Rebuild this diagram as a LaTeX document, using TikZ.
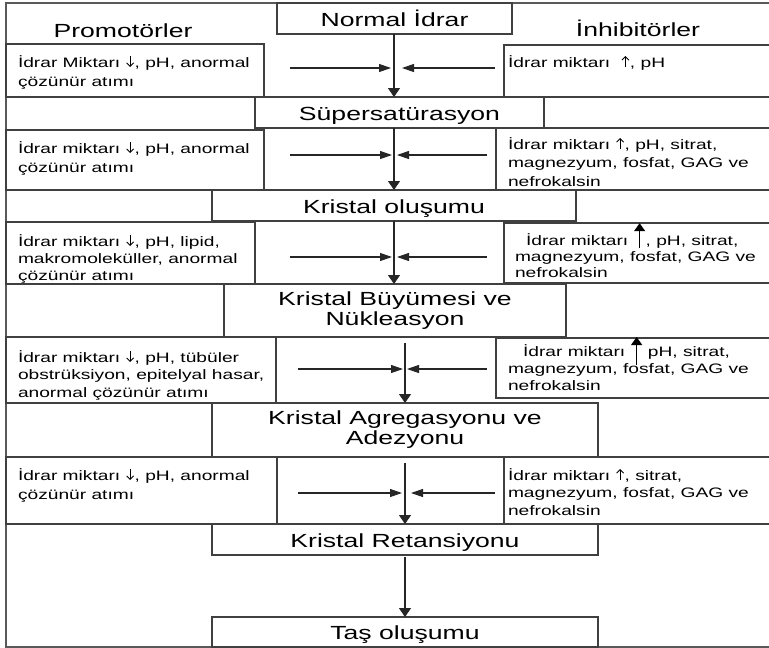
\documentclass[tikz,border=0pt]{standalone}
\usepackage{fontspec}
\setmainfont{Liberation Sans}[FakeStretch=1.4]
\usetikzlibrary{arrows.meta}
\newcommand\tb[5]{\parbox[c][#1pt][t]{#2pt}{\fontsize{13.7}{#4}\selectfont\vspace*{\dimexpr #3pt-0.7\baselineskip\relax}\begin{tabular}[t]{@{}l@{}}#5\end{tabular}}}
\newcommand\uparr[2]{\smash{\tikz[x=1pt,y=1pt,baseline=0pt]{\path (-6,0) -- (6,0);\draw[black,line width=1.1pt,-{Triangle[length=8pt,width=11pt]}] (0,#1) -- (0,#2);}}}
\newcommand\dn{\smash{\tikz[x=1pt,y=1pt,baseline=0pt]{\path (-4.5,0) -- (4.5,0);\draw[black,line width=0.9pt,-{Straight Barb[length=3.5pt,width=7pt]}] (0,11) -- (0,0);}}}
\newcommand\up{\smash{\tikz[x=1pt,y=1pt,baseline=0pt]{\path (-4.5,0) -- (4.5,0);\draw[black,line width=0.9pt,-{Straight Barb[length=3.5pt,width=7pt]}] (0,0) -- (0,11);}}}
\begin{document}
\begin{tikzpicture}[x=1pt,y=-1pt,
 ln/.style={draw=black!75,line width=1.3pt},
 ttl/.style={ln,anchor=north west,inner sep=0pt,outer sep=0pt,font=\fontsize{19}{20}\selectfont},
 one/.style={text height=15pt,text depth=0pt},
 two/.style={align=center},
 bx/.style={ln,anchor=north west,inner ysep=0pt,outer sep=0pt},
 hd/.style={anchor=base,font=\fontsize{19}{20}\selectfont},
 varr/.style={draw=black!85,line width=1.2pt,-{Triangle[length=9pt,width=12pt]}},
 harr/.style={draw=black!85,line width=1.1pt,-{Triangle[length=12pt,width=8pt]}}]
\useasboundingbox (0,0) rectangle (769,648);
\fill[white] (0,0) rectangle (769,648);
% outer frame
\draw[draw=black!65,line width=1.3pt] (771,3) -- (6,3) -- (6,647) -- (771,647);
% headers
\node[hd] (hp) at (123,37) {Promotörler};
\node[hd] (hi) at (638,36) {İnhibitörler};
% title boxes
\node[ttl,one,minimum width=235pt,minimum height=31pt] (n0) at (277,3) {Normal İdrar};
\node[ttl,one,minimum width=289pt,minimum height=31pt] (n1) at (255,97) {Süpersatürasyon};
\node[ttl,one,minimum width=364pt,minimum height=31pt] (n2) at (212,190) {Kristal oluşumu};
\node[ttl,two,minimum width=342pt,minimum height=53pt] (n3) at (224,284) {Kristal Büyümesi ve\\Nükleasyon};
\node[ttl,two,minimum width=386pt,minimum height=54pt] (n4) at (212,403) {Kristal Agregasyonu ve\\Adezyonu};
\node[ttl,one,minimum width=386pt,minimum height=31pt] (n5) at (212,524) {Kristal Retansiyonu};
\node[ttl,one,minimum width=386pt,minimum height=30pt] (n6) at (212,617) {Taş oluşumu};
% promoter boxes
\node[bx,inner xsep=12pt] (p1) at (6,44) {\tb{53}{234}{23}{19}{İdrar Miktarı \dn, pH, anormal\\çözünür atımı}};
\node[bx,inner xsep=12pt] (p2) at (6,130) {\tb{60}{234}{23}{19}{İdrar miktarı \dn, pH, anormal\\çözünür atımı}};
\node[bx,inner xsep=12pt] (p3) at (6,222) {\tb{62}{225}{24}{17}{İdrar miktarı \dn, pH, lipid,\\makromoleküller, anormal\\çözünür atımı}};
\node[bx,inner xsep=12pt] (p4) at (6,337) {\tb{66}{246}{25}{17.5}{İdrar miktarı \dn, pH, tübüler\\obstrüksiyon, epitelyal hasar,\\anormal çözünür atımı}};
\node[bx,inner xsep=12pt] (p5) at (6,457) {\tb{67}{247}{23}{19}{İdrar miktarı \dn, pH, anormal\\çözünür atımı}};
% inhibitor boxes
\node[bx,inner xsep=4pt] (i1) at (504,45) {\tb{52}{259}{22}{18}{İdrar miktarı\ \ \up, pH}};
\node[bx,inner xsep=12pt] (i2) at (496,128) {\tb{62}{251}{21}{18.5}{İdrar miktarı \up, pH, sitrat,\\magnezyum, fosfat, GAG ve\\nefrokalsin}};
\node[bx,inner xsep=11pt] (i3) at (504,223) {\tb{60}{245}{22}{16}{\hspace{11pt}İdrar miktarı \uparr{-2}{22.5}, pH, sitrat,\\magnezyum, fosfat, GAG ve\\nefrokalsin}};
\node[bx,inner xsep=12pt] (i4) at (496,338) {\tb{60}{251}{18}{17}{\hspace{15pt}İdrar miktarı \uparr{-9}{19} pH, sitrat,\\magnezyum, fosfat, GAG ve\\nefrokalsin}};
\node[bx,inner xsep=4pt] (i5) at (504,457) {\tb{67}{259}{23}{17.5}{İdrar miktarı \up, sitrat,\\magnezyum, fosfat, GAG ve\\nefrokalsin}};
% arrow columns
\coordinate (c1) at (394,0);
\coordinate (c2) at (405,0);
\draw[varr] (n0.south -| c1) -- (n1.north -| c1);
\draw[varr] (n1.south -| c1) -- (n2.north -| c1);
\draw[varr] (n2.south -| c1) -- (n3.north -| c1);
\draw[varr,shorten <=6pt] (n3.south -| c2) -- (n4.north -| c2);
\draw[varr,shorten <=6pt] (n4.south -| c2) -- (n5.north -| c2);
\draw[varr,shorten <=2pt] (n5.south -| c2) -- (n6.north -| c2);
% horizontal arrows
\coordinate (a1s) at (290,68); \coordinate (a1e) at (391,68);
\coordinate (b1s) at (495,68); \coordinate (b1e) at (402,68);
\coordinate (a2s) at (290,155); \coordinate (a2e) at (392,155);
\coordinate (b2s) at (487,155); \coordinate (b2e) at (397,155);
\coordinate (a3s) at (290,257); \coordinate (a3e) at (392,257);
\coordinate (b3s) at (487,257); \coordinate (b3e) at (397,257);
\coordinate (a4s) at (298,369); \coordinate (a4e) at (403,369);
\coordinate (b4s) at (487,369); \coordinate (b4e) at (407,369);
\coordinate (a5s) at (298,493); \coordinate (a5e) at (402,493);
\coordinate (b5s) at (495,493); \coordinate (b5e) at (411,493);
\foreach \k in {1,...,5}{
  \draw[harr] (a\k s) -- (a\k e);
  \draw[harr] (b\k s) -- (b\k e);
}
\end{tikzpicture}
\end{document}
